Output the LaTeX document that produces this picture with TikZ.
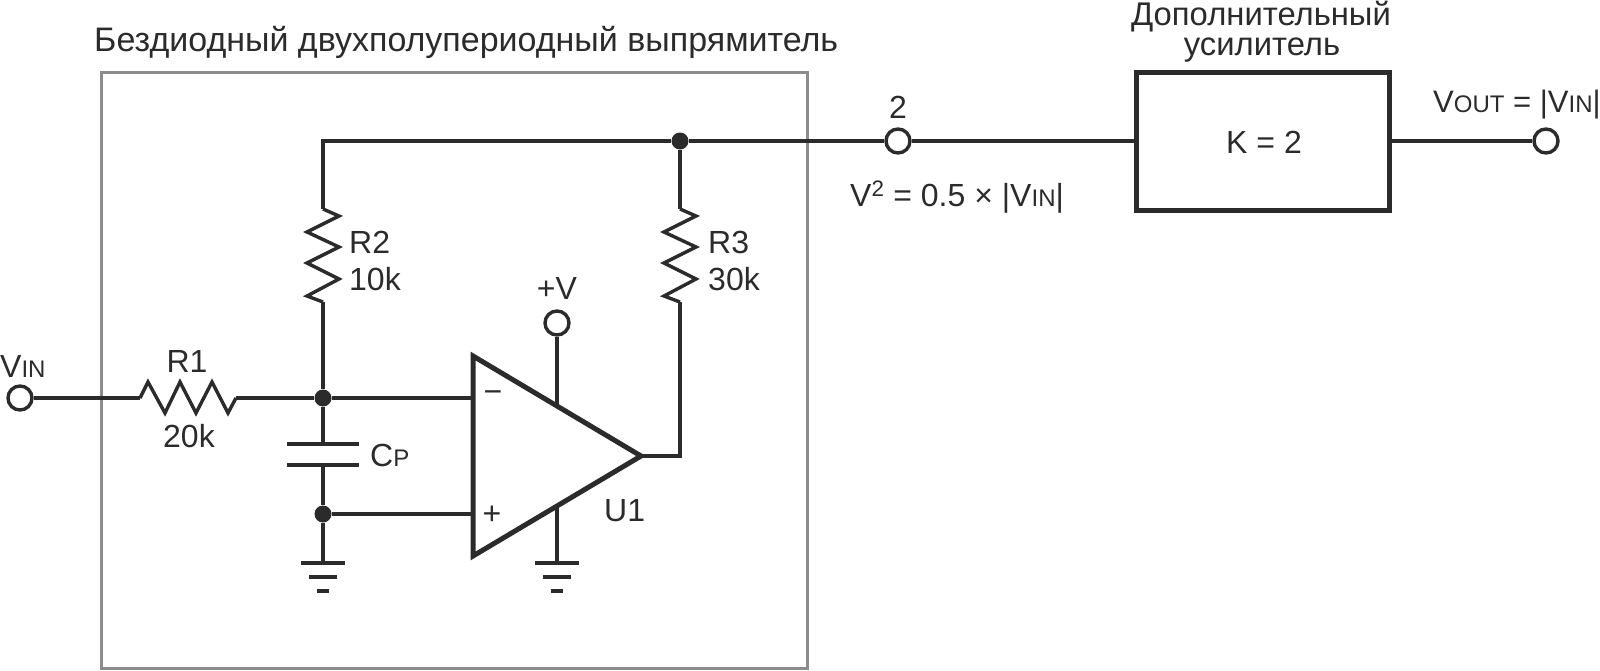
\documentclass[tikz,border=0pt]{standalone}
\usepackage{fontspec}
\setmainfont{Liberation Sans}
\newcommand{\smalltxt}[1]{{\fontsize{24}{24}\selectfont #1}}

\begin{document}
\begin{tikzpicture}[x=1pt,y=-1pt]
		\tikzset{edge/.style = {line width=3.4pt, color=wire, line join=miter}}
		\tikzset{heavy/.style = {line width=5pt, color=wire, line join=miter}}
		\tikzset{frame/.style = {line width=3pt, color=framegray}}
		\tikzset{terminal/.style = {circle, draw=wire, line width=3.4pt, fill=white, minimum size=24pt, inner sep=0pt}}
		\tikzset{junction/.style = {circle, fill=wire, minimum size=17pt, inner sep=0pt}}
		\tikzset{label/.style = {inner sep=0pt, text=wire, font=\fontsize{32}{32}\selectfont}}
		\tikzset{heading/.style = {label, font=\fontsize{34}{34}\selectfont}}
		\tikzset{ampheading/.style = {label, font=\fontsize{32.8}{34}\selectfont}}
		\definecolor{wire}{HTML}{2B2B2B}
		\definecolor{framegray}{HTML}{8C8C8C}
		
		\useasboundingbox (0,0) rectangle (1600,670);
		\draw[frame] (101,72) rectangle (807,668);
		
		\node[terminal]  (vin) at (  20, 398) {};
		\node[terminal]  (vcc) at ( 557, 323) {};
		\node[terminal]  (t2) at ( 898, 141) {};
		\node[terminal]  (vout) at (1546, 141) {};
		\node[junction]  (n1) at ( 323, 398) {};
		\node[junction]  (n2) at ( 323, 514) {};
		\node[junction]  (n3) at ( 680, 141) {};
		\node[draw=wire, line width=5pt, minimum width=253pt, minimum height=138pt, inner sep=0pt] (amp) at (1262.5, 141) {};
		
		\coordinate (r1a) at ( 140, 398);
		\coordinate (r1b) at ( 236, 398);
		\coordinate (r2a) at ( 323, 209);
		\coordinate (r2b) at ( 323, 302);
		\coordinate (r3a) at ( 680, 209);
		\coordinate (r3b) at ( 680, 302);
		\coordinate (c1) at ( 323, 444);
		\coordinate (c2) at ( 323, 465);
		\coordinate (g1) at ( 323, 563);
		\coordinate (g2) at ( 557, 563);
		\coordinate (uin1) at ( 473, 398);
		\coordinate (uin2) at ( 473, 514);
		\coordinate (uvcc) at ( 557, 405);
		\coordinate (ugnd) at ( 557, 507);
		\coordinate (uout) at ( 641, 456);
		\coordinate (top) at ( 323, 141);
		
		\draw[edge] (vin) to (r1a);
		\draw[edge] (r1a) -- (148,382) -- (165,413) -- (180,382) -- (196,413) -- (212,382) -- (228,413) -- (r1b);
		\draw[edge] (r1b) to (n1);
		\draw[edge] (n1) to (uin1);
		\draw[edge] (n2) to (uin2);
		\draw[edge] (n1) to (r2b);
		\draw[edge] (r2a) -- (339,216) -- (307,232) -- (339,247) -- (307,263) -- (339,279) -- (307,296) -- (r2b);
		\draw[edge] (r2a) -- (top) -- (n3);
		\draw[edge] (r3a) -- (696,216) -- (664,232) -- (696,247) -- (664,263) -- (696,279) -- (664,296) -- (r3b);
		\draw[edge] (n3) to (r3a);
		\draw[edge] (uout) -| (r3b);
		\draw[edge] (n3) to (t2);
		\draw[edge] (t2) to (amp);
		\draw[edge] (amp) to (vout);
		\draw[edge] (n1) to (c1);
		\draw[edge] (c2) to (n2);
		\draw[edge] (n2) to (g1);
		\draw[edge] (vcc) to (uvcc);
		\draw[edge] (ugnd) to (g2);
		\draw[edge] (287,444) -- (359,444);
		\draw[edge] (287,465) -- (359,465);
		\draw[heavy] (473,356) -- (uout) -- (473,556) -- cycle;
		
		\foreach \g in {g1,g2} {
			\draw[edge] ([xshift=-22pt]\g) -- ([xshift=22pt]\g);
			\draw[edge] ([xshift=-14pt,yshift=-14pt]\g) -- ([xshift=14pt,yshift=-14pt]\g);
			\draw[edge] ([xshift=-6pt,yshift=-28pt]\g) -- ([xshift=6pt,yshift=-28pt]\g);
		}
		
		\node[heading, anchor=base west] (ltitle) at (94,51) {Бездиодный двухполупериодный выпрямитель};
		\node[ampheading, anchor=base] (lamp1) at (1261,25) {Дополнительный};
		\node[ampheading, anchor=base] (lamp2) at (1262,55) {усилитель};
		\node[label, anchor=base west] (lvin) at (0,377) {V\smalltxt{IN}};
		\node[label, anchor=base] (lr1) at (187,372) {R1};
		\node[label, anchor=base] (lr1v) at (189,447) {20k};
		\node[label, anchor=base west] (lcp) at (370,466) {C\smalltxt{P}};
		\node[label, anchor=base west] (lr2) at (349,253) {R2};
		\node[label, anchor=base west] (lr2v) at (349,290) {10k};
		\node[label, anchor=base west] (lr3) at (708,253) {R3};
		\node[label, anchor=base west] (lr3v) at (708,290) {30k};
		\node[label, anchor=base] (lvcc) at (557,299) {+V};
		\node[label, anchor=base west] (lu1) at (604,521) {U1};
		\node[label, anchor=center] (lminus) at (493,397) {−};
		\node[label, anchor=center] (lplus) at (492,515) {+};
		\node[label, anchor=base] (l2) at (898,118) {2};
		\node[label, anchor=base west] (lv2) at (850,206) {V\textsuperscript{2} = 0.5 × |V\smalltxt{IN}|};
		\node[label, anchor=base] (lk) at (1264,153) {K = 2};
		\node[label, anchor=base west, font=\fontsize{31}{32}\selectfont] (lvout) at (1433,112) {V\smalltxt{OUT} = |V\smalltxt{IN}|};
		\end{tikzpicture}
\end{document}
